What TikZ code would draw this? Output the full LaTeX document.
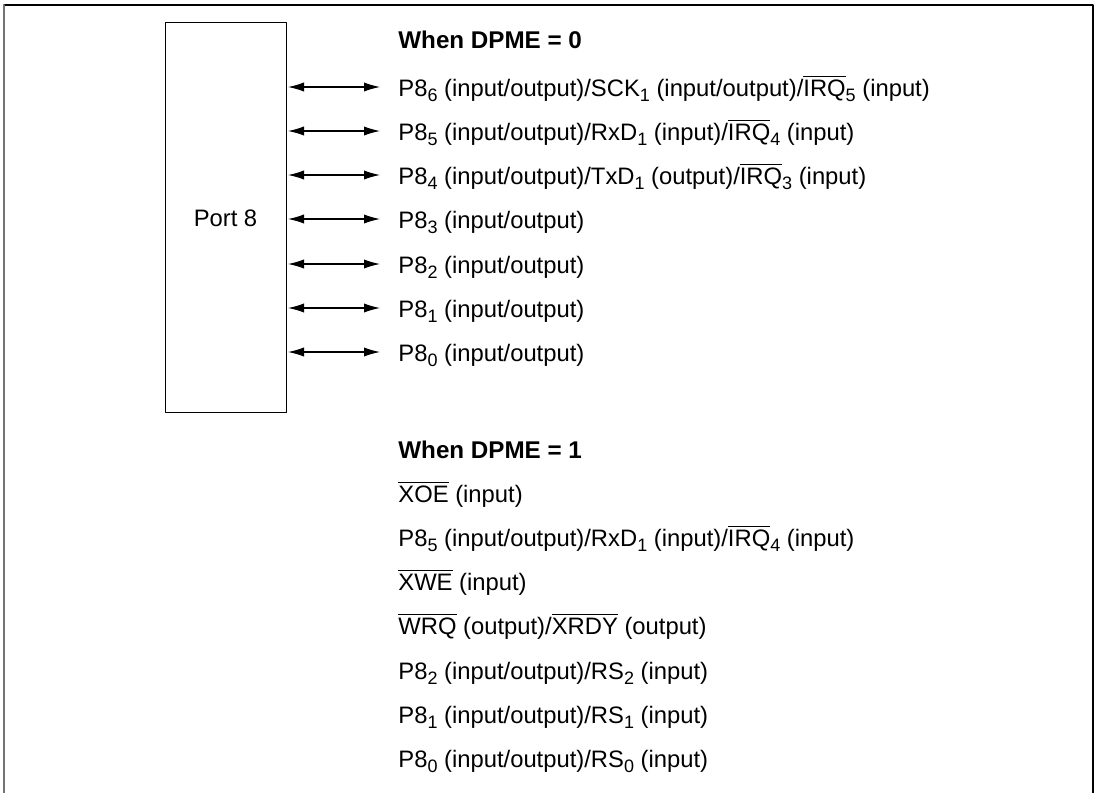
\documentclass[tikz,border=0pt]{standalone}
\usepackage{fontspec}
\setmainfont{Liberation Sans}
\usetikzlibrary{arrows.meta,calc,positioning}
\newcommand{\ovl}[1]{$\overline{\mbox{#1}}$}
\newcommand{\sub}[1]{\raisebox{-0.45ex}{\fontsize{9}{10}\selectfont #1}}
\tikzset{
  pinlbl/.style={anchor=base west, inner sep=0pt, font=\fontsize{11.9}{14}\selectfont},
  headlbl/.style={pinlbl, font=\fontsize{12.1}{14}\selectfont\bfseries},
  biarrow/.style={{Latex[length=8pt,width=4.6pt]}-{Latex[length=8pt,width=4.6pt]}, line width=0.55pt},
  every picture/.style={line cap=round, line join=round}
}
\begin{document}
\begin{tikzpicture}[x=0.5pt,y=-0.5pt]
  \useasboundingbox (0,0) rectangle (1100,793);
  % frame, open at the bottom
  \draw[line width=0.6pt] (4,5) -- (1093,5) -- (1093,793);
  \draw[line width=0.9pt, black!55] (4,793) -- (4,5);

  \node[draw, line width=0.5pt, anchor=north west, inner sep=0pt,
        minimum width=60.5pt, minimum height=195pt] (port) at (165,22) {};
  \node[font=\fontsize{11.9}{14}\selectfont, anchor=base] (portname) at (225.5,226) {Port 8};

  % DPME = 0
  \node[headlbl] (h0) at (398,48) {When DPME = 0};
  \node[pinlbl] (p86) at (398,96) {P8\sub{6} (input/output)/SCK\sub{1} (input/output)/\ovl{IRQ}\sub{5} (input)};
  \node[pinlbl] (p85) at (398,140) {P8\sub{5} (input/output)/RxD\sub{1} (input)/\ovl{IRQ}\sub{4} (input)};
  \node[pinlbl] (p84) at (398,184) {P8\sub{4} (input/output)/TxD\sub{1} (output)/\ovl{IRQ}\sub{3} (input)};
  \node[pinlbl] (p83) at (398,228) {P8\sub{3} (input/output)};
  \node[pinlbl] (p82) at (398,273) {P8\sub{2} (input/output)};
  \node[pinlbl] (p81) at (398,317) {P8\sub{1} (input/output)};
  \node[pinlbl] (p80) at (398,361) {P8\sub{0} (input/output)};

  \foreach \n in {6,5,4,3,2,1,0}
    \draw[biarrow] ($(p8\n.base west -| port.east)+(1,-9)$) -- ($(p8\n.base west)+(-18,-9)$);

  % DPME = 1
  \node[headlbl] (h1) at (398,458) {When DPME = 1};
  \node[pinlbl] (xoe) at (398,502) {\ovl{XOE} (input)};
  \node[pinlbl] (q85) at (398,546) {P8\sub{5} (input/output)/RxD\sub{1} (input)/\ovl{IRQ}\sub{4} (input)};
  \node[pinlbl] (xwe) at (398,590) {\ovl{XWE} (input)};
  \node[pinlbl] (wrq) at (398,634) {\ovl{WRQ} (output)/\ovl{XRDY} (output)};
  \node[pinlbl] (q82) at (398,679) {P8\sub{2} (input/output)/RS\sub{2} (input)};
  \node[pinlbl] (q81) at (398,723) {P8\sub{1} (input/output)/RS\sub{1} (input)};
  \node[pinlbl] (q80) at (398,767) {P8\sub{0} (input/output)/RS\sub{0} (input)};
\end{tikzpicture}
\end{document}
